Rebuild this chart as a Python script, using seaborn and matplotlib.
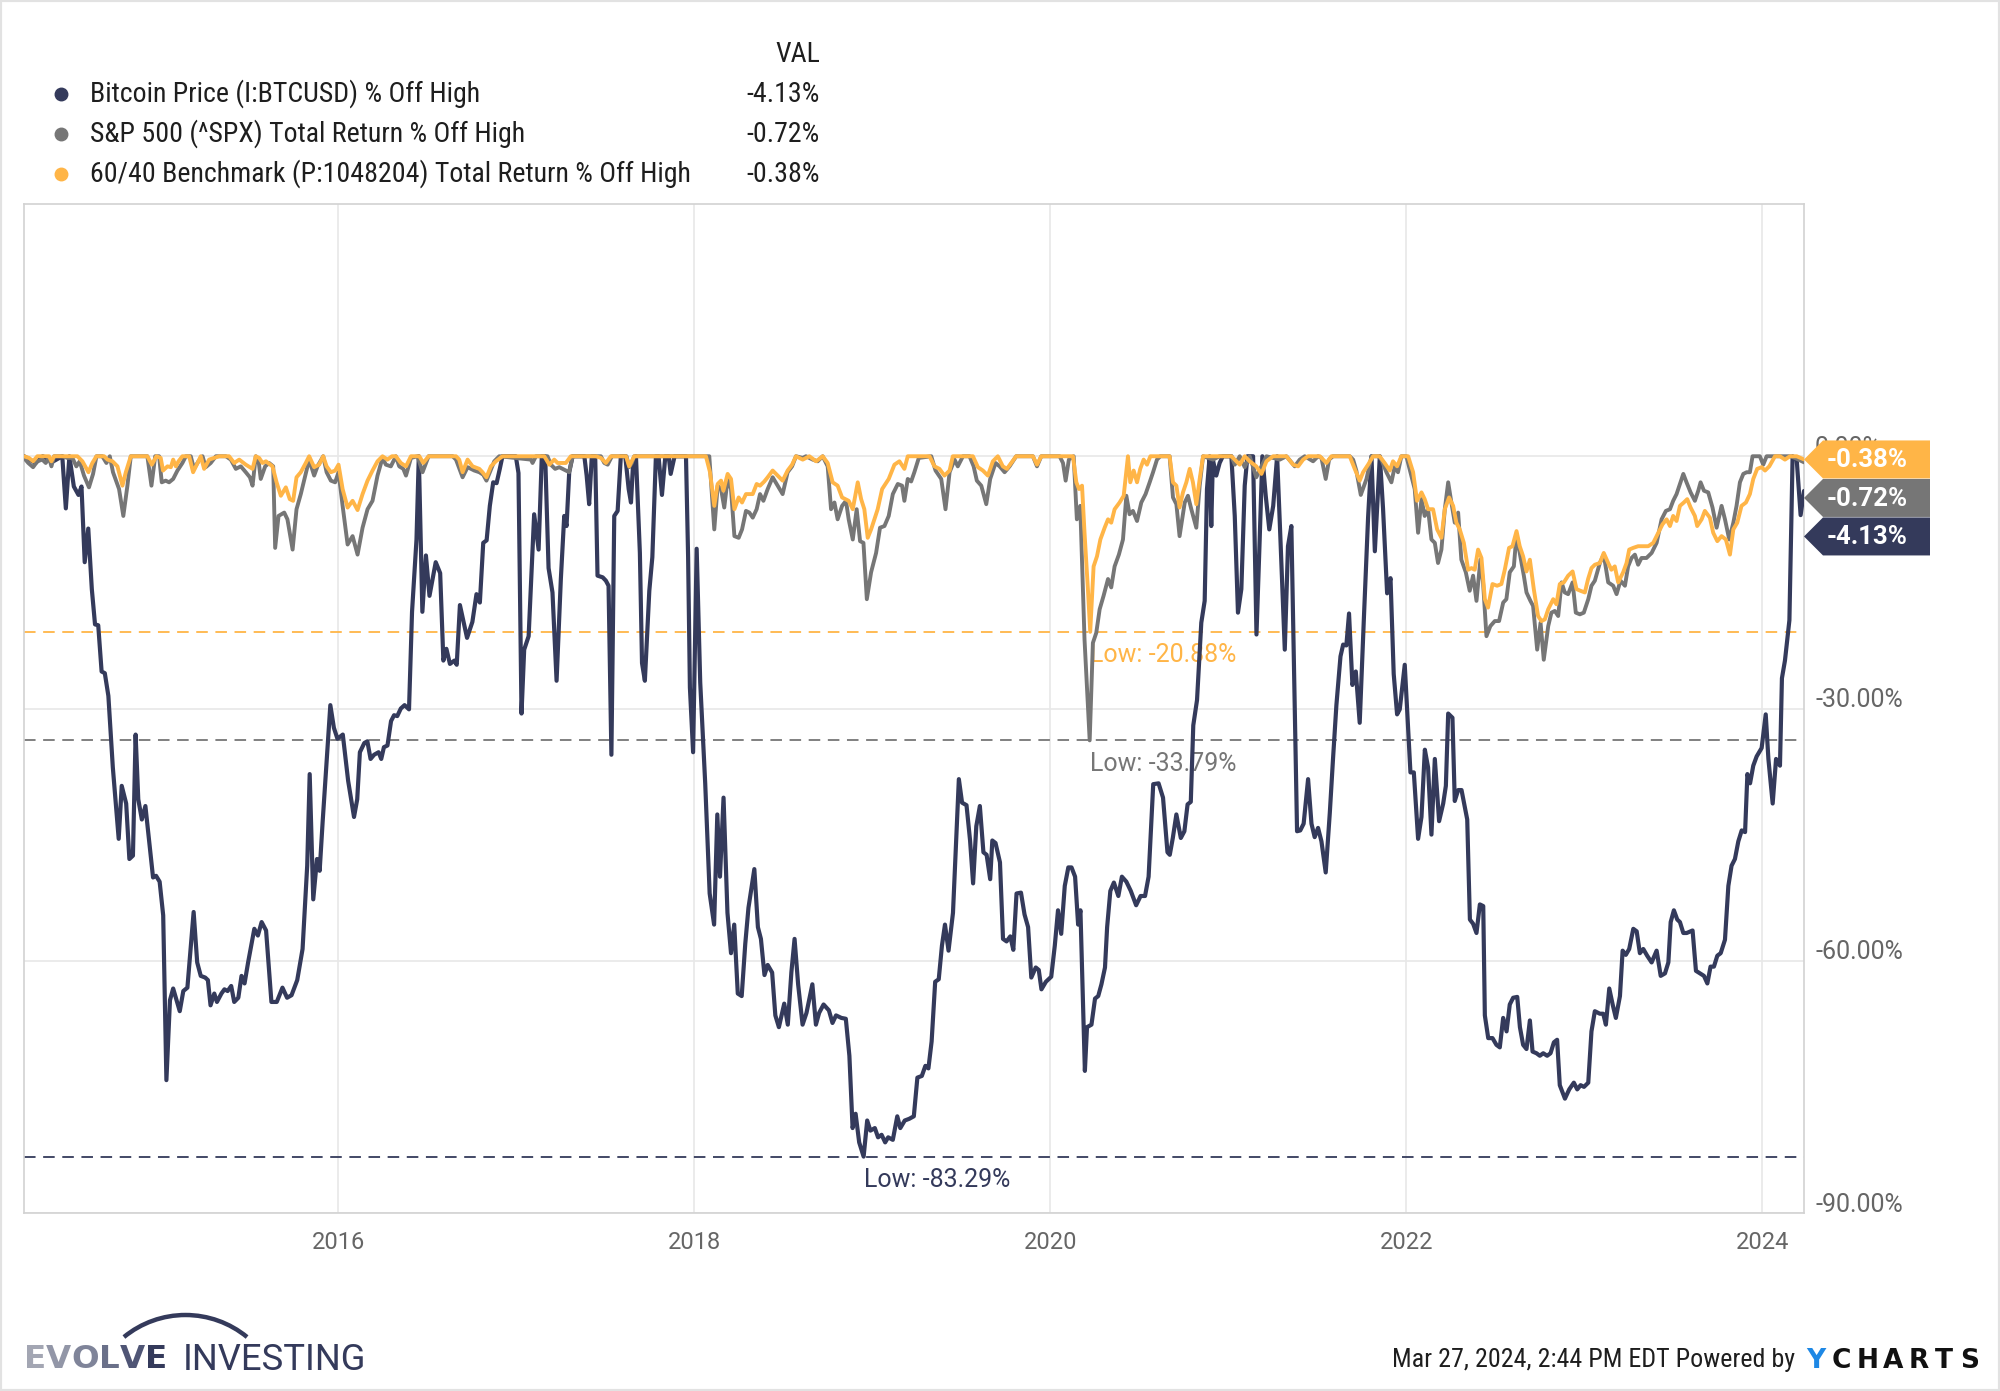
import numpy as np
import matplotlib
matplotlib.use("Agg")
import matplotlib.pyplot as plt
from matplotlib import font_manager as fm
from matplotlib.patches import Polygon, Rectangle, Arc
from matplotlib.lines import Line2D
from matplotlib.transforms import ScaledTranslation, IdentityTransform
import seaborn as sns

# ---- data: % off high, weekly points (x = decimal year) ----
btc_t = [2014.235, 2014.30, 2014.34, 2014.40, 2014.45, 2014.47, 2014.49, 2014.515, 2014.541, 2014.558,
         2014.576, 2014.596, 2014.616, 2014.634, 2014.652, 2014.671, 2014.689, 2014.709, 2014.734, 2014.751,
         2014.767, 2014.784, 2014.809, 2014.827, 2014.847, 2014.862, 2014.877, 2014.897, 2014.917, 2014.96,
         2014.977, 2014.997, 2015.017, 2015.035, 2015.055, 2015.073, 2015.11, 2015.13, 2015.153, 2015.188,
         2015.208, 2015.228, 2015.253, 2015.268, 2015.283, 2015.304, 2015.319, 2015.344, 2015.361, 2015.379,
         2015.399, 2015.416, 2015.439, 2015.457, 2015.474, 2015.494, 2015.529, 2015.549, 2015.57, 2015.595,
         2015.625, 2015.655, 2015.687, 2015.713, 2015.738, 2015.77, 2015.8, 2015.815, 2015.826, 2015.84,
         2015.86, 2015.881, 2015.896, 2015.913, 2015.931, 2015.956, 2015.976, 2015.996, 2016.026, 2016.056,
         2016.089, 2016.107, 2016.122, 2016.147, 2016.164, 2016.182, 2016.202, 2016.227, 2016.242, 2016.257,
         2016.277, 2016.297, 2016.314, 2016.332, 2016.352, 2016.373, 2016.398, 2016.415, 2016.44, 2016.453,
         2016.473, 2016.493, 2016.513, 2016.548, 2016.573, 2016.591, 2016.608, 2016.628, 2016.653, 2016.666,
         2016.684, 2016.724, 2016.754, 2016.777, 2016.796, 2016.815, 2016.834, 2016.852, 2016.871, 2016.89,
         2016.908, 2016.923, 2016.998, 2017.013, 2017.03, 2017.045, 2017.07, 2017.101, 2017.126, 2017.144,
         2017.163, 2017.182, 2017.204, 2017.227, 2017.251, 2017.27, 2017.283, 2017.298, 2017.317, 2017.383,
         2017.396, 2017.41, 2017.425, 2017.444, 2017.457, 2017.486, 2017.504, 2017.519, 2017.535, 2017.551,
         2017.57, 2017.588, 2017.613, 2017.632, 2017.645, 2017.658, 2017.673, 2017.695, 2017.707, 2017.723,
         2017.748, 2017.765, 2017.785, 2017.80, 2017.819, 2017.838, 2017.857, 2017.868, 2017.89, 2017.954,
         2017.966, 2017.976, 2017.994, 2018.014, 2018.034, 2018.062, 2018.087, 2018.112, 2018.13, 2018.145,
         2018.165, 2018.187, 2018.207, 2018.225, 2018.245, 2018.267, 2018.287, 2018.305, 2018.338, 2018.358,
         2018.375, 2018.395, 2018.413, 2018.438, 2018.456, 2018.476, 2018.506, 2018.526, 2018.546, 2018.564,
         2018.584, 2018.609, 2018.631, 2018.664, 2018.684, 2018.702, 2018.727, 2018.757, 2018.777, 2018.797,
         2018.827, 2018.852, 2018.872, 2018.89, 2018.907, 2018.927, 2018.952, 2018.972, 2018.99, 2019.015,
         2019.033, 2019.053, 2019.073, 2019.09, 2019.116, 2019.141, 2019.158, 2019.183, 2019.208, 2019.234,
         2019.254, 2019.279, 2019.299, 2019.316, 2019.334, 2019.354, 2019.374, 2019.392, 2019.409, 2019.429,
         2019.454, 2019.487, 2019.505, 2019.53, 2019.55, 2019.567, 2019.585, 2019.605, 2019.625, 2019.643,
         2019.663, 2019.675, 2019.693, 2019.718, 2019.735, 2019.755, 2019.776, 2019.793, 2019.811, 2019.836,
         2019.856, 2019.876, 2019.894, 2019.919, 2019.936, 2019.951, 2019.976, 2020.006, 2020.026, 2020.044,
         2020.062, 2020.082, 2020.102, 2020.12, 2020.14, 2020.157, 2020.17, 2020.195, 2020.207, 2020.232,
         2020.252, 2020.27, 2020.288, 2020.308, 2020.32, 2020.338, 2020.358, 2020.383, 2020.403, 2020.428,
         2020.453, 2020.483, 2020.508, 2020.533, 2020.553, 2020.579, 2020.609, 2020.634, 2020.659, 2020.672,
         2020.689, 2020.709, 2020.734, 2020.754, 2020.772, 2020.79, 2020.804, 2020.825, 2020.849, 2020.868,
         2020.881, 2020.896, 2020.905, 2020.914, 2020.933, 2020.952, 2020.97, 2021.018, 2021.037, 2021.055,
         2021.074, 2021.093, 2021.108, 2021.14, 2021.159, 2021.177, 2021.192, 2021.211, 2021.231, 2021.253,
         2021.275, 2021.29, 2021.318, 2021.336, 2021.355, 2021.387, 2021.405, 2021.424, 2021.449, 2021.468,
         2021.486, 2021.505, 2021.524, 2021.548, 2021.571, 2021.589, 2021.608, 2021.631, 2021.646, 2021.664,
         2021.679, 2021.698, 2021.717, 2021.739, 2021.762, 2021.786, 2021.805, 2021.824, 2021.852, 2021.87,
         2021.893, 2021.912, 2021.93, 2021.949, 2021.964, 2021.992, 2022.024, 2022.043, 2022.067, 2022.086,
         2022.105, 2022.123, 2022.142, 2022.161, 2022.185, 2022.208, 2022.223, 2022.236, 2022.26, 2022.273,
         2022.292, 2022.311, 2022.33, 2022.343, 2022.358, 2022.376, 2022.395, 2022.414, 2022.433, 2022.442,
         2022.461, 2022.485, 2022.507, 2022.526, 2022.545, 2022.564, 2022.582, 2022.601, 2022.624, 2022.639,
         2022.657, 2022.676, 2022.695, 2022.71, 2022.732, 2022.751, 2022.77, 2022.792, 2022.811, 2022.83,
         2022.848, 2022.863, 2022.892, 2022.916, 2022.942, 2022.961, 2022.98, 2022.999, 2023.023, 2023.041,
         2023.06, 2023.088, 2023.107, 2023.122, 2023.141, 2023.16, 2023.178, 2023.201, 2023.216, 2023.234,
         2023.253, 2023.276, 2023.295, 2023.313, 2023.332, 2023.354, 2023.379, 2023.407, 2023.43, 2023.454,
         2023.473, 2023.486, 2023.504, 2023.523, 2023.538, 2023.557, 2023.576, 2023.609, 2023.628, 2023.65,
         2023.673, 2023.692, 2023.71, 2023.729, 2023.748, 2023.767, 2023.791, 2023.81, 2023.828, 2023.847,
         2023.866, 2023.885, 2023.904, 2023.917, 2023.932, 2023.95, 2023.969, 2023.997, 2024.02, 2024.035,
         2024.059, 2024.078, 2024.1, 2024.111, 2024.128, 2024.153, 2024.171, 2024.194, 2024.216, 2024.235]
btc_v = [0, -0.8, 0, -0.6, 0, -6.2, 0, -3.6, -4.6, -3.6,
         -12.6, -8.6, -15.8, -20.0, -20.1, -25.6, -25.8, -28.5, -37.0, -41.3,
         -45.5, -39.2, -41.3, -47.9, -47.5, -33.1, -40.8, -43.2, -41.6, -50.1,
         -49.9, -50.6, -54.6, -74.2, -64.7, -63.3, -66.0, -63.6, -63.2, -54.2,
         -60.2, -61.8, -62.0, -62.3, -65.3, -63.9, -64.9, -63.9, -63.4, -63.6,
         -63.0, -64.9, -64.4, -61.8, -62.7, -60.2, -56.2, -57.0, -55.4, -56.4,
         -64.9, -64.9, -63.2, -64.4, -64.1, -62.3, -58.6, -53.0, -48.7, -37.8,
         -52.7, -47.9, -49.3, -43.4, -37.6, -29.6, -32.3, -33.6, -33.1, -38.6,
         -42.9, -40.8, -35.2, -34.1, -33.9, -36.0, -35.5, -35.2, -36.0, -34.6,
         -34.4, -31.5, -30.8, -30.9, -30.0, -29.6, -30.1, -18.5, -9.9, 0,
         -18.5, -11.8, -16.6, -12.6, -13.9, -24.3, -22.9, -24.7, -24.3, -24.8,
         -17.7, -21.6, -19.7, -16.4, -17.4, -10.3, -10.0, -5.9, -3.1, -3.2,
         -1.5, 0, 0, -2.0, -30.6, -23.0, -21.4, -6.9, -11.1, 0,
         0, -13.3, -16.2, -26.7, -14.6, -7.1, -8.3, -1.9, 0, 0,
         -2.3, -5.7, 0, 0, -14.2, -14.4, -14.8, -15.4, -35.5, -7.1,
         -6.5, 0, 0, -3.9, -5.5, -0.4, 0, -11.5, -24.6, -26.7,
         -16.0, -12.0, 0, 0, -4.6, 0, 0, -2.1, 0, 0,
         -12.0, -27.5, -35.2, -11.0, -26.9, -38.9, -52.0, -55.7, -42.6, -50.0,
         -40.6, -54.3, -59.1, -55.7, -63.9, -64.2, -58.0, -53.7, -49.1, -56.0,
         -57.4, -61.7, -60.5, -61.4, -66.5, -67.9, -65.1, -67.6, -61.4, -57.4,
         -62.8, -67.6, -66.2, -62.8, -67.6, -66.2, -65.2, -65.9, -67.4, -66.5,
         -66.8, -66.9, -71.3, -79.9, -78.2, -81.6, -83.29, -79.0, -80.2, -79.9,
         -81.0, -80.7, -81.6, -81.0, -81.3, -78.5, -79.9, -79.0, -78.8, -78.5,
         -73.9, -73.7, -72.5, -72.8, -69.6, -62.5, -62.2, -58.2, -55.7, -58.8,
         -54.3, -38.4, -41.2, -41.5, -45.7, -50.8, -44.0, -41.6, -47.1, -47.4,
         -50.3, -45.7, -46.0, -48.3, -57.4, -57.7, -57.1, -58.7, -52.0, -51.9,
         -54.5, -56.0, -62.0, -60.8, -61.1, -63.4, -62.5, -61.9, -58.2, -54.0,
         -56.8, -51.1, -48.9, -48.9, -50.0, -55.7, -54.0, -73.1, -67.9, -67.6,
         -64.5, -64.2, -62.8, -60.8, -56.0, -51.7, -50.7, -52.3, -50.0, -50.6,
         -51.7, -53.4, -52.3, -52.3, -50.0, -39.0, -38.9, -40.6, -47.1, -47.4,
         -45.4, -42.6, -45.4, -44.6, -41.4, -41.1, -32.0, -29.0, -19.8, -17.2,
         -3.9, 0, -8.3, -0.4, -2.3, -0.8, 0, 0, -7.1, -18.6,
         -15.8, -3.5, 0, 0, -21.2, -9.9, 0, -4.7, -8.7, -5.9,
         0, -7.9, -23.0, -10.7, -8.3, -44.6, -44.5, -43.7, -38.4, -43.7,
         -45.3, -44.2, -45.8, -49.5, -42.4, -36.0, -29.6, -23.8, -22.4, -22.5,
         -18.7, -27.2, -25.6, -31.7, -19.5, -7.3, 0, -11.3, 0, -6.2,
         -16.3, -14.5, -25.9, -30.7, -30.1, -24.8, -37.6, -37.6, -45.5, -42.9,
         -34.9, -37.0, -45.0, -36.0, -43.4, -41.3, -39.2, -30.6, -31.1, -41.0,
         -39.7, -39.7, -41.8, -43.2, -55.1, -55.6, -56.7, -53.3, -53.5, -66.5,
         -69.2, -69.2, -70.0, -70.3, -66.8, -68.4, -65.2, -64.4, -64.3, -67.9,
         -70.0, -70.5, -67.1, -70.8, -71.0, -71.3, -71.0, -71.3, -71.0, -69.7,
         -69.4, -74.8, -76.4, -75.3, -74.5, -75.3, -74.8, -75.0, -74.5, -68.4,
         -66.0, -66.3, -66.3, -67.6, -63.3, -65.2, -66.8, -64.2, -58.8, -59.3,
         -58.6, -56.2, -56.5, -59.1, -58.6, -59.4, -60.2, -58.8, -61.8, -61.5,
         -60.2, -55.4, -54.0, -55.1, -55.4, -56.7, -56.7, -56.4, -61.2, -61.5,
         -61.8, -62.7, -60.7, -60.7, -59.4, -59.1, -57.5, -51.1, -48.7, -47.9,
         -45.8, -44.5, -44.7, -37.8, -38.9, -36.8, -35.7, -34.7, -30.7, -36.0,
         -41.3, -36.0, -36.8, -26.4, -24.3, -19.5, 0, -0.4, -7.0, -4.13]

spx_t = [2014.235, 2014.259, 2014.286, 2014.31, 2014.338, 2014.357, 2014.376, 2014.389, 2014.404, 2014.451,
         2014.479, 2014.507, 2014.529, 2014.548, 2014.572, 2014.6, 2014.623, 2014.642, 2014.675, 2014.698,
         2014.717, 2014.735, 2014.769, 2014.793, 2014.816, 2014.835, 2014.928, 2014.951, 2014.972, 2014.994,
         2015.009, 2015.031, 2015.05, 2015.073, 2015.097, 2015.125, 2015.144, 2015.172, 2015.19, 2015.215,
         2015.238, 2015.256, 2015.284, 2015.313, 2015.369, 2015.397, 2015.425, 2015.453, 2015.481, 2015.504,
         2015.519, 2015.537, 2015.552, 2015.565, 2015.59, 2015.612, 2015.635, 2015.646, 2015.665, 2015.697,
         2015.715, 2015.744, 2015.766, 2015.79, 2015.815, 2015.837, 2015.865, 2015.884, 2015.916, 2015.935,
         2015.959, 2015.983, 2016.002, 2016.025, 2016.053, 2016.081, 2016.109, 2016.137, 2016.165, 2016.193,
         2016.221, 2016.249, 2016.268, 2016.296, 2016.324, 2016.343, 2016.366, 2016.381, 2016.409, 2016.446,
         2016.474, 2016.508, 2016.643, 2016.662, 2016.699, 2016.727, 2016.765, 2016.793, 2016.815, 2016.833,
         2016.852, 2016.877, 2016.905, 2017.083, 2017.092, 2017.111, 2017.176, 2017.195, 2017.219, 2017.242,
         2017.279, 2017.298, 2017.317, 2017.476, 2017.495, 2017.514, 2017.538, 2017.62, 2017.635, 2017.65,
         2017.663, 2018.085, 2018.104, 2018.113, 2018.132, 2018.151, 2018.169, 2018.188, 2018.207, 2018.226,
         2018.25, 2018.269, 2018.291, 2018.31, 2018.329, 2018.351, 2018.37, 2018.389, 2018.413, 2018.441,
         2018.469, 2018.497, 2018.525, 2018.55, 2018.572, 2018.61, 2018.628, 2018.666, 2018.694, 2018.722,
         2018.75, 2018.769, 2018.788, 2018.806, 2018.831, 2018.853, 2018.868, 2018.891, 2018.913, 2018.932,
         2018.951, 2018.97, 2018.994, 2019.022, 2019.044, 2019.069, 2019.093, 2019.116, 2019.144, 2019.168,
         2019.181, 2019.2, 2019.219, 2019.237, 2019.262, 2019.332, 2019.356, 2019.388, 2019.412, 2019.435,
         2019.463, 2019.481, 2019.51, 2019.547, 2019.57, 2019.588, 2019.613, 2019.641, 2019.663, 2019.693,
         2019.716, 2019.744, 2019.772, 2019.809, 2019.903, 2019.926, 2019.95, 2020.053, 2020.072, 2020.087,
         2020.105, 2020.132, 2020.15, 2020.169, 2020.193, 2020.222, 2020.24, 2020.259, 2020.278, 2020.3,
         2020.325, 2020.343, 2020.362, 2020.386, 2020.409, 2020.428, 2020.446, 2020.465, 2020.488, 2020.512,
         2020.536, 2020.559, 2020.578, 2020.6, 2020.619, 2020.671, 2020.69, 2020.709, 2020.727, 2020.756,
         2020.774, 2020.793, 2020.821, 2020.84, 2020.859, 2020.915, 2020.952, 2021.018, 2021.037, 2021.065,
         2021.093, 2021.121, 2021.158, 2021.187, 2021.215, 2021.29, 2021.327, 2021.374, 2021.402, 2021.43,
         2021.477, 2021.505, 2021.524, 2021.548, 2021.567, 2021.589, 2021.683, 2021.702, 2021.72, 2021.745,
         2021.777, 2021.805, 2021.842, 2021.861, 2021.889, 2021.917, 2021.936, 2021.954, 2021.973, 2022.001,
         2022.029, 2022.048, 2022.067, 2022.086, 2022.104, 2022.123, 2022.142, 2022.161, 2022.179, 2022.198,
         2022.217, 2022.236, 2022.254, 2022.273, 2022.292, 2022.31, 2022.335, 2022.357, 2022.376, 2022.395,
         2022.417, 2022.432, 2022.451, 2022.473, 2022.498, 2022.522, 2022.545, 2022.563, 2022.582, 2022.605,
         2022.62, 2022.638, 2022.661, 2022.676, 2022.698, 2022.713, 2022.736, 2022.755, 2022.773, 2022.798,
         2022.816, 2022.835, 2022.854, 2022.873, 2022.891, 2022.91, 2022.935, 2022.953, 2022.976, 2022.998,
         2023.023, 2023.041, 2023.06, 2023.088, 2023.11, 2023.135, 2023.163, 2023.182, 2023.204, 2023.229,
         2023.247, 2023.266, 2023.285, 2023.303, 2023.322, 2023.35, 2023.379, 2023.407, 2023.435, 2023.459,
         2023.482, 2023.5, 2023.519, 2023.538, 2023.557, 2023.575, 2023.598, 2023.622, 2023.641, 2023.654,
         2023.673, 2023.697, 2023.721, 2023.744, 2023.772, 2023.791, 2023.815, 2023.838, 2023.856, 2023.875,
         2023.894, 2023.913, 2023.931, 2023.946, 2023.987, 2024.006, 2024.025, 2024.156, 2024.184, 2024.235]
spx_v = [-0.2, -0.8, -1.3, -0.6, -0.4, -0.8, -0.2, -1.2, 0, 0,
         -0.2, -0.2, -1.2, -0.6, -2.3, -3.7, -2.1, 0, 0, -0.8,
         0, -1.9, -3.9, -7.1, -3.5, 0, 0, -3.5, 0, 0,
         -3.1, -2.9, -3.1, -2.7, -1.7, -0.8, 0, 0, -1.5, -0.6,
         0, -1.3, -0.8, 0, 0, -0.4, -1.5, -1.2, -1.9, -2.5,
         -3.5, 0, -0.4, -2.7, -1.2, -0.8, -1.2, -10.9, -7.1, -6.7,
         -7.5, -11.1, -6.3, -4.5, -2.3, -0.4, -2.3, -1.2, 0, -1.9,
         -2.9, -3.1, -1.9, -5.9, -10.5, -9.5, -11.7, -8.5, -6.3, -5.3,
         -2.3, -0.2, -1.0, -1.2, 0, -1.2, -1.5, -2.3, -0.2, 0,
         -1.9, 0, 0, -0.4, -2.5, -1.3, -1.7, -1.9, -2.2, -2.9,
         -1.9, -0.6, 0, -0.4, -0.8, 0, 0, -1.0, -1.5, -1.3,
         -1.7, -1.9, 0, 0, -0.8, -1.0, 0, 0, -1.3, -0.8,
         0, 0, -5.9, -8.7, -3.5, -3.9, -6.1, -2.7, -3.9, -9.5,
         -9.7, -8.7, -6.5, -6.7, -7.3, -6.3, -4.5, -5.3, -3.9, -2.5,
         -3.5, -4.5, -1.9, -1.2, 0, -0.2, 0, -0.4, -0.6, 0,
         -1.2, -6.3, -5.5, -7.5, -5.9, -5.3, -7.5, -9.9, -6.3, -10.1,
         -10.3, -17.0, -13.8, -11.5, -8.5, -8.3, -7.1, -4.5, -3.3, -3.5,
         -5.3, -2.7, -3.0, -1.9, -0.2, 0, -1.7, -2.7, -6.3, -1.9,
         -0.4, -1.2, 0, 0, -1.2, -2.9, -3.5, -5.7, -2.7, -0.8,
         -1.2, -1.9, -1.2, 0, 0, -1.2, 0, 0, -0.8, -2.9,
         -0.4, 0, -7.5, -5.9, -21.8, -33.79, -22.2, -21.0, -18.2, -16.6,
         -14.6, -15.6, -13.1, -11.7, -9.9, -4.7, -6.9, -6.5, -7.7, -5.5,
         -4.5, -3.1, -1.9, -0.4, 0, 0, -4.9, -5.7, -9.5, -5.5,
         -4.7, -6.3, -8.5, -3.5, 0, -0.4, 0, 0, -1.0, 0,
         -1.3, 0, -2.5, -1.2, 0, -0.4, 0, -1.2, -0.4, 0,
         -0.6, 0, -0.2, -2.7, -0.4, 0, 0, -0.4, -1.7, -4.6,
         -2.7, 0, 0, -0.4, -1.9, -3.1, -1.2, -1.9, 0, 0,
         -2.3, -3.9, -9.1, -5.1, -7.1, -6.3, -9.9, -10.3, -12.7, -11.1,
         -6.3, -3.1, -5.5, -7.9, -6.7, -12.3, -13.8, -16.0, -14.2, -17.2,
         -12.3, -15.0, -21.4, -20.2, -19.6, -19.6, -17.4, -17.0, -13.8, -13.1,
         -9.3, -11.5, -14.2, -16.2, -17.2, -17.8, -23.0, -19.8, -24.2, -20.2,
         -18.6, -18.4, -19.0, -15.0, -16.2, -16.4, -15.0, -18.6, -18.8, -18.6,
         -17.0, -15.4, -14.8, -12.7, -11.7, -15.0, -15.4, -16.4, -14.8, -15.4,
         -13.1, -12.1, -11.7, -12.9, -12.1, -12.1, -11.5, -10.3, -7.5, -6.5,
         -6.3, -5.3, -4.5, -3.3, -2.1, -3.1, -4.3, -5.3, -4.1, -3.1,
         -4.1, -4.3, -6.1, -8.5, -5.9, -7.5, -9.9, -7.9, -5.9, -3.1,
         -2.1, -1.9, -1.9, 0, 0, -1.0, 0, 0, -0.2, -0.72]

bal_t = [2014.235, 2014.263, 2014.286, 2014.31, 2014.376, 2014.389, 2014.404, 2014.535, 2014.563, 2014.597,
         2014.619, 2014.642, 2014.685, 2014.704, 2014.732, 2014.76, 2014.788, 2014.807, 2014.835, 2014.928,
         2014.953, 2014.979, 2015.003, 2015.016, 2015.041, 2015.06, 2015.073, 2015.088, 2015.103, 2015.125,
         2015.163, 2015.185, 2015.21, 2015.228, 2015.247, 2015.275, 2015.303, 2015.331, 2015.387, 2015.416,
         2015.444, 2015.481, 2015.519, 2015.537, 2015.556, 2015.575, 2015.594, 2015.631, 2015.654, 2015.678,
         2015.706, 2015.728, 2015.747, 2015.766, 2015.79, 2015.818, 2015.837, 2015.865, 2015.893, 2015.916,
         2015.935, 2015.959, 2015.983, 2016.002, 2016.025, 2016.053, 2016.081, 2016.109, 2016.137, 2016.165,
         2016.193, 2016.221, 2016.249, 2016.277, 2016.302, 2016.324, 2016.352, 2016.381, 2016.409, 2016.456,
         2016.478, 2016.508, 2016.662, 2016.68, 2016.699, 2016.727, 2016.755, 2016.793, 2016.811, 2016.833,
         2016.858, 2016.886, 2016.923, 2017.158, 2017.186, 2017.214, 2017.233, 2017.279, 2017.307, 2017.448,
         2017.476, 2017.504, 2017.532, 2017.617, 2017.635, 2017.663, 2018.066, 2018.089, 2018.113, 2018.132,
         2018.151, 2018.164, 2018.188, 2018.207, 2018.226, 2018.25, 2018.269, 2018.291, 2018.329, 2018.351,
         2018.37, 2018.394, 2018.413, 2018.441, 2018.469, 2018.497, 2018.525, 2018.55, 2018.572, 2018.61,
         2018.647, 2018.685, 2018.722, 2018.75, 2018.778, 2018.806, 2018.831, 2018.868, 2018.891, 2018.919,
         2018.938, 2018.956, 2018.975, 2018.994, 2019.031, 2019.056, 2019.093, 2019.125, 2019.153, 2019.181,
         2019.2, 2019.322, 2019.35, 2019.378, 2019.406, 2019.435, 2019.453, 2019.566, 2019.594, 2019.622,
         2019.65, 2019.678, 2019.706, 2019.734, 2019.757, 2019.781, 2019.809, 2019.903, 2019.926, 2019.95,
         2020.128, 2020.147, 2020.162, 2020.179, 2020.193, 2020.212, 2020.225, 2020.244, 2020.263, 2020.282,
         2020.306, 2020.325, 2020.343, 2020.362, 2020.39, 2020.413, 2020.437, 2020.45, 2020.469, 2020.488,
         2020.506, 2020.525, 2020.544, 2020.563, 2020.671, 2020.69, 2020.709, 2020.727, 2020.746, 2020.765,
         2020.784, 2020.802, 2020.821, 2020.84, 2020.859, 2021.018, 2021.065, 2021.093, 2021.121, 2021.158,
         2021.187, 2021.215, 2021.252, 2021.327, 2021.365, 2021.393, 2021.421, 2021.449, 2021.515, 2021.552,
         2021.58, 2021.683, 2021.711, 2021.739, 2021.758, 2021.786, 2021.814, 2021.851, 2021.879, 2021.908,
         2021.926, 2021.949, 2021.973, 2022.011, 2022.039, 2022.061, 2022.086, 2022.104, 2022.123, 2022.151,
         2022.174, 2022.198, 2022.217, 2022.241, 2022.264, 2022.282, 2022.301, 2022.324, 2022.348, 2022.367,
         2022.385, 2022.404, 2022.423, 2022.442, 2022.46, 2022.485, 2022.511, 2022.535, 2022.554, 2022.578,
         2022.597, 2022.62, 2022.638, 2022.657, 2022.676, 2022.695, 2022.717, 2022.741, 2022.76, 2022.779,
         2022.798, 2022.826, 2022.844, 2022.863, 2022.886, 2022.91, 2022.935, 2022.957, 2022.979, 2023.004,
         2023.022, 2023.041, 2023.06, 2023.088, 2023.11, 2023.135, 2023.153, 2023.172, 2023.191, 2023.219,
         2023.238, 2023.253, 2023.275, 2023.303, 2023.332, 2023.36, 2023.388, 2023.416, 2023.44, 2023.463,
         2023.482, 2023.5, 2023.519, 2023.538, 2023.56, 2023.579, 2023.598, 2023.622, 2023.635, 2023.66,
         2023.678, 2023.706, 2023.725, 2023.748, 2023.772, 2023.796, 2023.819, 2023.838, 2023.86, 2023.884,
         2023.909, 2023.931, 2023.95, 2023.972, 2023.997, 2024.016, 2024.04, 2024.072, 2024.1, 2024.128,
         2024.156, 2024.194, 2024.235]
bal_v = [0, -0.2, -0.6, 0, 0, -0.6, 0, 0, -0.6, -1.9,
         -0.8, 0, 0, -0.4, -0.6, -1.2, -3.5, -1.9, 0, 0,
         -1.0, 0, -0.2, -1.7, -1.2, -1.3, -0.4, -1.2, -0.6, 0,
         0, -1.9, -0.8, 0, -1.5, -0.4, -0.2, 0, 0, -0.8,
         -0.4, -1.0, -1.5, 0, -0.2, -0.8, -0.6, -1.2, -3.1, -4.7,
         -3.7, -5.1, -5.3, -2.5, -1.9, -0.8, 0, -1.3, -1.0, 0,
         -1.2, -1.9, -1.7, -1.0, -3.9, -6.1, -5.3, -6.4, -4.5, -2.9,
         -1.7, -0.6, 0, -0.4, 0, 0, -0.8, -1.2, 0, 0,
         -0.8, 0, 0, -0.4, -1.9, -0.4, -1.2, -1.5, -1.9, -2.5,
         -1.2, -0.6, 0, 0, -1.0, -0.4, -0.8, -0.8, 0, 0,
         -0.2, -0.8, 0, 0, -1.2, 0, 0, -1.9, -5.9, -3.3,
         -2.9, -4.1, -2.1, -2.7, -6.3, -4.9, -5.5, -4.5, -4.5, -3.3,
         -3.5, -3.0, -2.5, -1.7, -2.3, -2.9, -1.7, -1.0, 0, -0.4,
         0, -0.6, 0, -0.8, -3.1, -3.5, -4.9, -5.3, -6.3, -3.1,
         -5.1, -6.3, -9.7, -8.7, -6.3, -3.9, -2.7, -1.0, -0.6, -1.5,
         0, 0, -1.2, -1.5, -2.3, -1.7, 0, 0, -1.3, -1.7,
         -2.3, -0.6, 0, -1.2, -1.5, -0.8, 0, 0, -1.0, 0,
         0, -3.1, -3.9, -3.5, -9.1, -15.8, -20.88, -13.1, -11.9, -9.9,
         -8.5, -7.5, -7.9, -6.3, -5.5, -4.7, 0, -3.1, -1.7, -3.1,
         -1.5, -0.4, -1.0, 0, 0, -3.1, -3.5, -6.1, -4.3, -3.1,
         -1.5, -3.1, -5.7, -2.7, 0, 0, -1.0, 0, -0.6, -1.2,
         -2.1, -0.6, 0, 0, -1.0, -1.2, -0.4, 0, 0, -0.8,
         0, 0, -1.5, -2.9, -1.9, -1.0, 0, 0, -0.8, -1.7,
         -0.6, -1.2, 0, 0, -1.9, -5.3, -4.3, -5.1, -6.3, -6.3,
         -8.7, -9.7, -6.3, -4.9, -5.9, -7.9, -8.7, -10.3, -13.5, -13.3,
         -13.5, -11.1, -12.1, -17.0, -18.0, -15.2, -15.4, -15.2, -13.5, -10.9,
         -10.7, -8.9, -10.7, -11.9, -13.7, -12.3, -15.8, -19.0, -19.6, -19.4,
         -18.2, -17.0, -17.6, -15.2, -15.0, -14.2, -13.7, -15.8, -16.0, -16.2,
         -14.6, -13.3, -12.9, -12.7, -11.5, -12.7, -13.5, -13.1, -15.0, -13.8,
         -12.7, -11.1, -10.9, -10.7, -10.7, -10.7, -10.3, -9.1, -8.1, -7.5,
         -8.3, -7.1, -7.7, -5.9, -5.5, -5.1, -6.1, -7.1, -8.3, -7.5,
         -6.5, -7.3, -9.1, -10.1, -9.5, -9.9, -11.7, -8.7, -7.9, -5.9,
         -5.5, -4.5, -2.7, -1.5, -1.3, -1.7, -1.2, 0, 0, -0.4,
         0, 0, -0.38]

labels = ["Bitcoin Price (I:BTCUSD) % Off High",
          "S&P 500 (^SPX) Total Return % Off High",
          "60/40 Benchmark (P:1048204) Total Return % Off High"]
y_ticks = [-90, -60, -30, 0]
x_ticks = [2016, 2018, 2020, 2022, 2024]

NAVY   = "#343a5b"
GREY   = "#767676"
ORANGE = "#ffb547"
GRID   = "#e8e8e8"
FRAME  = "#d2d2d2"
TICKC  = "#666666"
TEXTC  = "#1e1e1e"

sns.set_theme(style="white")
installed = {f.name for f in fm.fontManager.ttflist}


def pick(*names):
    for n in names:
        if n in installed:
            return n
    return "DejaVu Sans"


BASE = pick("Roboto", "Open Sans", "DejaVu Sans")
NARROW = pick("Roboto Condensed", "Liberation Sans Narrow", "Roboto")
plt.rcParams["font.family"] = [BASE, "DejaVu Sans"]

W, H = 2000, 1391
fig = plt.figure(figsize=(W / 100, H / 100), dpi=100, facecolor="white")
renderer = fig.canvas.get_renderer()


def fx(px):
    return px / W


def fy(py):
    return 1 - py / H


def fit(txt, width_px):
    w = txt.get_window_extent(renderer).width
    txt.set_fontsize(txt.get_fontsize() * width_px / w)
    return txt.get_fontsize()


ax = fig.add_axes([fx(24), fy(1213), fx(1804) - fx(24), fy(204) - fy(1213)])
ax.set_facecolor("white")

series = [(labels[0], btc_t, btc_v, NAVY, 3.0),
          (labels[1], spx_t, spx_v, GREY, 2.8),
          (labels[2], bal_t, bal_v, ORANGE, 2.8)]

for name, t, v, c, lw in series:
    sns.lineplot(x=t, y=v, ax=ax, color=c, linewidth=lw, estimator=None,
                 sort=False, legend=False, zorder=3, solid_joinstyle="round")

# low markers
for name, t, v, c, lw in series:
    i = int(np.argmin(v))
    ax.axhline(v[i], color=c, lw=1.3, ls=(0, (6.4, 4.2)), zorder=1.8)
    ax.annotate(f"Low: {v[i]:.2f}%", xy=(t[i], v[i]), xytext=(0, -17),
                textcoords="offset points", ha="left", va="center",
                color=c, fontsize=18, zorder=2)

ax.set_xlim(btc_t[0], btc_t[-1])
ax.set_ylim(-90, 30)
ax.set_xticks(x_ticks)
ax.set_xticklabels([str(x) for x in x_ticks])
ax.yaxis.tick_right()
ax.set_yticks(y_ticks)
ax.set_yticklabels([f"{y:.2f}%" for y in y_ticks])
ax.set_xlabel("")
ax.set_ylabel("")
ax.grid(True, color=GRID, lw=1.2)
ax.set_axisbelow(True)
ax.tick_params(axis="both", length=0, colors=TICKC)
ax.tick_params(axis="x", pad=13, labelsize=17)
ax.tick_params(axis="y", pad=8, labelsize=18)
for lab in ax.get_yticklabels():
    lab.set_transform(lab.get_transform() + ScaledTranslation(0, 0.11, fig.dpi_scale_trans))
for sp in ax.spines.values():
    sp.set_visible(True)
    sp.set_edgecolor(FRAME)
    sp.set_linewidth(1.2)

# value tags on the right edge
x_tip = ax.transAxes.transform((1, 0))[0]
y_top = ax.transData.transform((bal_t[-1], bal_v[-1]))[1]
tags = sorted(series, key=lambda s: -s[2][-1])
for k, (name, t, v, c, lw) in enumerate(tags):
    yc = y_top - k * 38.5
    pts = [(x_tip, yc), (x_tip + 19, yc + 19), (x_tip + 126, yc + 19),
           (x_tip + 126, yc - 19), (x_tip + 19, yc - 19)]
    fig.add_artist(Polygon(pts, closed=True, facecolor=c, edgecolor="none",
                           transform=IdentityTransform(), zorder=5))
    fig.text(x_tip + 63, yc - 1, f"{v[-1]:.2f}%", transform=IdentityTransform(),
             ha="center", va="center", color="white", fontsize=18.5,
             fontweight="bold", zorder=6)

# legend block
t0 = fig.text(fx(90), fy(93), labels[0], ha="left", va="center",
              color=TEXTC, fontsize=17, family=[NARROW, "DejaVu Sans"])
lsize = fit(t0, 390)
fig.text(fx(820), fy(54), "VAL", ha="right", va="center", color=TEXTC,
         fontsize=lsize, family=[NARROW, "DejaVu Sans"])
for k, (name, t, v, c, lw) in enumerate(series):
    yy = fy(94 + 40 * k)
    fig.add_artist(Line2D([fx(61)], [yy], marker="o", ms=9, color=c,
                          transform=fig.transFigure))
    if k > 0:
        fig.text(fx(90), yy, name, ha="left", va="center", color=TEXTC,
                 fontsize=lsize, family=[NARROW, "DejaVu Sans"])
    fig.text(fx(820), yy, f"{v[-1]:.2f}%", ha="right", va="center",
             color=TEXTC, fontsize=lsize, family=[NARROW, "DejaVu Sans"])
t0.set_y(fy(94))

# footer: logo left
evolve_cols = ["#a3a6b3", "#9296a7", "#7f8499", "#6a7089", "#4f5575", "#343a5b"]
x = 24
letters = []
for ch, col in zip("EVOLVE", evolve_cols):
    tt = fig.text(fx(x), fy(1360), ch, ha="left", va="center", color=col,
                  fontsize=27, fontweight="heavy", family=["DejaVu Sans"])
    letters.append(tt)
    x += tt.get_window_extent(renderer).width
scale = 143 / (x - 24)
x = 24
for tt in letters:
    tt.set_fontsize(27 * scale)
    tt.set_x(fx(x))
    x += tt.get_window_extent(renderer).width
inv = fig.text(fx(183), fy(1360), "INVESTING", ha="left", va="center",
               color=NAVY, fontsize=27, fontweight="normal")
fit(inv, 184)
fig.add_artist(Arc((185.5, H - 1412), 194, 194, theta1=50.6, theta2=129.4,
                   transform=IdentityTransform(), color=NAVY, lw=3.2))

# footer: timestamp + YCHARTS right
stamp = fig.text(fx(1795), fy(1360), "Mar 27, 2024, 2:44 PM EDT Powered by",
                 ha="right", va="center", color=TEXTC, fontsize=17,
                 family=[NARROW, "DejaVu Sans"])
fit(stamp, 401)
for ch, xc in zip("YCHARTS", np.linspace(1816, 1970, 7)):
    fig.text(fx(xc), fy(1361), ch, ha="center", va="center",
             color="#1e88e5" if ch == "Y" else "#111111",
             fontsize=19, fontweight="bold", family=["DejaVu Sans"])

fig.add_artist(Rectangle((0, 0), 1, 1, transform=fig.transFigure, fill=False,
                         edgecolor="#e2e2e2", lw=3))

fig.savefig("out.png", dpi=100, facecolor="white")
plt.close(fig)
